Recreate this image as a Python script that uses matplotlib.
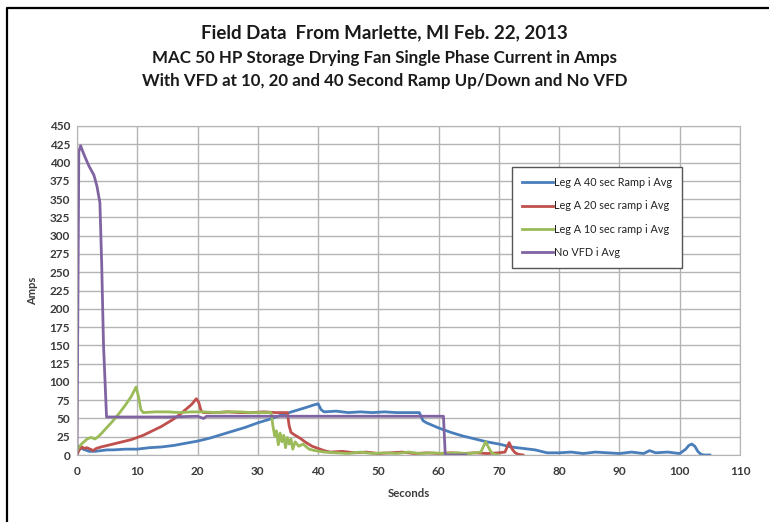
"""Field data from Marlette, MI - single-phase fan current with and without VFD."""
import matplotlib
matplotlib.use("Agg")
import matplotlib.pyplot as plt
from matplotlib.lines import Line2D

plt.rcParams["font.family"] = ["Lato", "DejaVu Sans"]

TXT = "#3b3b3b"
GRID = "#b4b4b4"

# ---- data ----
t_40 = [0, 0.5, 1, 2, 3, 4, 5, 6, 8, 10, 12, 14, 16, 18, 20, 22, 24, 26, 28, 30,
        32, 34, 36, 38, 39.5, 40, 40.5, 41, 43, 45, 47, 49, 51, 53, 55, 56.8, 57.4,
        58, 60, 62, 64, 66, 68, 70, 72, 74, 76, 77, 78, 80, 82, 84, 86, 88, 90, 92,
        94, 95, 96, 98, 100, 101, 101.5, 102, 102.5, 103, 103.5, 104, 105]
amp_40 = [10, 12, 8, 5, 5, 6, 7, 7, 8, 8, 10, 11, 13, 16, 19, 23, 28, 33, 38, 44,
          49, 55, 60, 65, 69, 70, 62, 59, 60, 58, 59, 58, 59, 58, 58, 58, 47,
          44, 37, 31, 26, 22, 18, 15, 11, 9, 7, 5, 3, 3, 4, 2, 4, 3, 2, 4,
          2, 6, 3, 4, 2, 8, 13, 15, 12, 5, 1, 0, 0]

t_20 = [0, 0.3, 0.8, 1.2, 1.6, 2.2, 2.7, 3.2, 4, 5, 6, 7, 8, 9, 10, 11, 12, 13, 14,
        15, 16, 17, 18, 19, 19.8, 20.2, 20.6, 21, 23, 25, 27, 29, 31, 33, 34.9, 35.2,
        35.5, 36, 37, 38, 39, 40, 41, 42, 44, 46, 48, 50, 52, 54, 56, 58, 60, 62, 64,
        66, 68, 70, 71, 71.7, 72.2, 72.7, 73.2, 74]
amp_20 = [0, 6, 11, 9, 10, 8, 6, 9, 11, 13, 15, 17, 19, 21, 24, 27, 31, 35, 39,
          44, 49, 55, 62, 69, 77, 72, 60, 58, 58, 59, 58, 58, 59, 58, 58, 40,
          31, 28, 23, 17, 12, 9, 6, 4, 5, 3, 4, 2, 3, 4, 2, 3, 2, 3, 2,
          3, 2, 3, 4, 17, 8, 3, 1, 0]

t_10 = [0, 0.3, 1, 1.7, 2.3, 3, 3.5, 4, 5, 6, 7, 8, 9, 9.8, 10.2, 10.6, 11, 13, 15,
        17, 19, 21, 23, 25, 27, 29, 31, 32.2, 32.5, 32.8, 33.1, 33.4, 33.7, 34.0,
        34.3, 34.6, 34.9, 35.2, 35.5, 35.8, 36.2, 36.8, 37.5, 38.5, 39.5, 41, 43, 45,
        47, 49, 51, 53, 55, 57, 59, 61, 63, 65, 67, 67.8, 68.3, 68.8, 69.3, 70]
amp_10 = [5, 11, 17, 22, 24, 22, 25, 29, 38, 47, 57, 68, 80, 93, 80, 62, 58, 59, 59,
          58, 59, 59, 58, 59, 59, 58, 58, 58, 40, 26, 33, 14, 30, 18,
          27, 10, 24, 15, 22, 8, 18, 12, 15, 8, 6, 4, 3, 2,
          4, 2, 3, 2, 4, 2, 3, 2, 3, 2, 4, 18, 10, 3, 1, 0]

t_novfd = [0, 0.3, 0.6, 1.2, 2, 2.8, 3.3, 3.8, 4.1, 4.4, 4.9, 6, 10, 15, 20, 21, 21.5,
           22, 25, 30, 35, 40, 45, 50, 55, 60, 60.8, 61.1, 63, 64.5]
amp_novfd = [0, 415, 423, 410, 395, 383, 368, 345, 260, 150, 52, 52, 52, 52, 53, 50, 53,
             53, 53, 53, 53, 53, 53, 53, 53, 53, 53, 0, 0, 0]

series = [
    (t_40, amp_40, "Leg A 40 sec Ramp i Avg", "#4a7ebb"),
    (t_20, amp_20, "Leg A 20 sec ramp i Avg", "#c0504d"),
    (t_10, amp_10, "Leg A 10 sec ramp i Avg", "#9bbb59"),
    (t_novfd, amp_novfd, "No VFD i Avg", "#8064a2"),
]

fig = plt.figure(figsize=(7.69, 5.22), dpi=100)
ax = fig.add_axes([77 / 769, 1 - 455 / 522, 663 / 769, 329 / 522])

for t, a, lab, col in series:
    ax.plot(t, a, color=col, lw=2.0, label=lab, solid_joinstyle="round")

ax.set_xlim(0, 110)
ax.set_ylim(0, 450)
ax.set_xticks(range(0, 111, 10))
ax.set_yticks(range(0, 451, 25))
ax.grid(True, color=GRID, lw=1.0)
ax.set_axisbelow(True)
for s in ax.spines.values():
    s.set_color(GRID)
ax.tick_params(length=0, labelsize=8.5, labelcolor=TXT, pad=5)
for lbl in ax.get_xticklabels() + ax.get_yticklabels():
    lbl.set_fontweight("bold")
ax.tick_params(axis="x", pad=8)
ax.set_xlabel("Seconds", fontsize=8.2, fontweight="bold", color=TXT, labelpad=8)
ax.set_ylabel("Amps", fontsize=8, fontweight="bold", color=TXT, labelpad=8)

leg = ax.legend(loc="upper left", bbox_to_anchor=(0.656, 0.875), fontsize=7.8,
                fancybox=False, edgecolor="#555555", framealpha=1, handlelength=2.9,
                handletextpad=0.1, labelspacing=1.15, borderpad=0.9, borderaxespad=0)
leg.get_frame().set_linewidth(1.0)
for txt in leg.get_texts():
    txt.set_color("#222222")

# three-line title
fig.text(0.5, 1 - 33 / 522, "Field Data  From Marlette, MI Feb. 22, 2013", ha="center",
         va="center", fontsize=13.5, fontweight="bold", color="#1a1a1a")
fig.text(0.5, 1 - 58 / 522, "MAC 50 HP Storage Drying Fan Single Phase Current in Amps",
         ha="center", va="center", fontsize=12.2, fontweight="bold", color="#1a1a1a")
fig.text(0.5, 1 - 81 / 522, "With VFD at 10, 20 and 40 Second Ramp Up/Down and No VFD",
         ha="center", va="center", fontsize=12.2, fontweight="bold", color="#1a1a1a")

# outer frame (screenshot border, left and top)
fig.add_artist(Line2D([7 / 769, 7 / 769, 1.0], [0.0, 1 - 8 / 522, 1 - 8 / 522],
                      transform=fig.transFigure, color="black", lw=1.6))

fig.savefig("out.png", dpi=100)
